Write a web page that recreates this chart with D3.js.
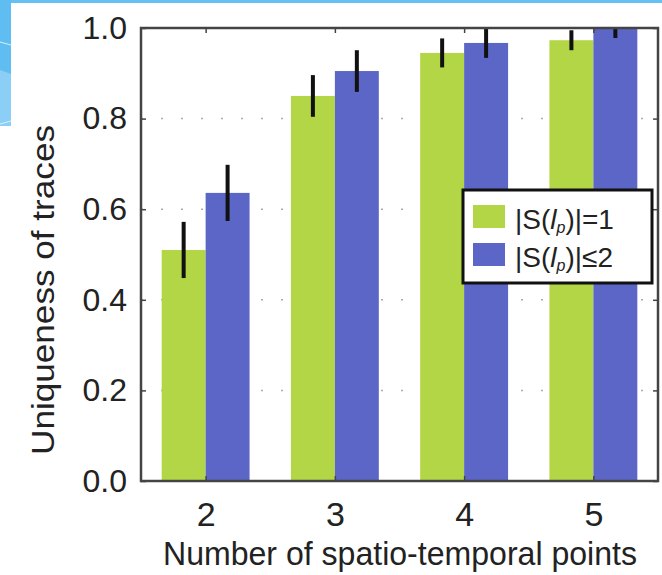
<!DOCTYPE html>
<html>
<head>
<meta charset="utf-8">
<script src="https://cdn.jsdelivr.net/npm/d3@7/dist/d3.min.js"></script>
<style>
  html, body { margin: 0; padding: 0; background: #fff; }
  svg { display: block; font-family: "Liberation Sans", Arial, Helvetica, sans-serif; }
</style>
</head>
<body>
<svg id="chart" width="662" height="575"></svg>
<script>
// Uniqueness of traces by number of spatio-temporal points
const categories = [2, 3, 4, 5];
const seriesNames = ["single", "multi"];
const singleValues = [0.51, 0.85, 0.945, 0.973];
const singleErrors = [0.062, 0.046, 0.032, 0.022];
const multiValues = [0.636, 0.905, 0.967, 1.0];
const multiErrors = [0.062, 0.046, 0.033, 0.022];
const yTicks = [0.0, 0.2, 0.4, 0.6, 0.8, 1.0];
const gridTicks = [0.2, 0.4, 0.6, 0.8];

const colors = { single: "#b3d646", multi: "#5c66c6" };

const svg = d3.select("#chart");
const W = 662, H = 575;
const plot = { left: 141, right: 658, top: 28, bottom: 481 };

// slide decoration: top strip and left corner
svg.append("rect").attr("x", 0).attr("y", 0).attr("width", W).attr("height", 3).attr("fill", "#63c2f2");
const deco = svg.append("g");
deco.append("rect").attr("x", 0).attr("y", 0).attr("width", 11).attr("height", 126).attr("fill", "#5fbdf1");
deco.append("path").attr("d", "M0,70 L11,74 L11,126 L0,126 Z").attr("fill", "#8ccff6");
deco.append("path").attr("d", "M0,42 L11,45").attr("stroke", "#d6effc").attr("stroke-width", 1);
deco.append("path").attr("d", "M0,124 L11,121").attr("stroke", "#d6effc").attr("stroke-width", 1);

const x = d3.scaleLinear().domain([1.5, 5.5]).range([plot.left, plot.right]);
const y = d3.scaleLinear().domain([0, 1]).range([plot.bottom, plot.top]);
const barW = 0.34;

svg.append("defs").append("clipPath").attr("id", "plotClip")
  .append("rect").attr("x", plot.left).attr("y", plot.top)
  .attr("width", plot.right - plot.left).attr("height", plot.bottom - plot.top);

const g = svg.append("g").attr("clip-path", "url(#plotClip)");

// dotted horizontal grid
g.selectAll("line.grid").data(gridTicks).join("line")
  .attr("class", "grid")
  .attr("x1", plot.left).attr("x2", plot.right)
  .attr("y1", d => y(d)).attr("y2", d => y(d))
  .attr("stroke", "#aaa").attr("stroke-width", 1.5)
  .attr("stroke-dasharray", "2,18");

const rows = categories.map((c, i) => ({
  cat: c,
  single: { v: singleValues[i], e: singleErrors[i] },
  multi: { v: multiValues[i], e: multiErrors[i] }
}));

seriesNames.forEach((s, si) => {
  const off = si === 0 ? -barW : 0;
  g.selectAll("rect.bar-" + s).data(rows).join("rect")
    .attr("class", "bar-" + s)
    .attr("x", d => x(d.cat + off))
    .attr("width", d => x(d.cat + off + barW) - x(d.cat + off))
    .attr("y", d => y(d[s].v))
    .attr("height", d => y(0) - y(d[s].v))
    .attr("fill", colors[s]);
});

seriesNames.forEach((s, si) => {
  const off = si === 0 ? -barW / 2 : barW / 2;
  g.selectAll("line.err-" + s).data(rows).join("line")
    .attr("class", "err-" + s)
    .attr("x1", d => x(d.cat + off)).attr("x2", d => x(d.cat + off))
    .attr("y1", d => y(d[s].v - d[s].e)).attr("y2", d => y(d[s].v + d[s].e))
    .attr("stroke", "#111").attr("stroke-width", 4);
});

// frame
svg.append("rect")
  .attr("x", plot.left).attr("y", plot.top)
  .attr("width", plot.right - plot.left).attr("height", plot.bottom - plot.top)
  .attr("fill", "none").attr("stroke", "#444").attr("stroke-width", 2.5);

// axes with inward ticks
const yAxis = d3.axisLeft(y).tickValues(yTicks).tickFormat(d3.format(".1f")).tickSize(-5).tickPadding(14);
const yAxisR = d3.axisRight(y).tickValues(yTicks).tickFormat("").tickSize(-5);
const xAxis = d3.axisBottom(x).tickValues(categories).tickFormat(d3.format("d")).tickSize(-5).tickPadding(21);
const xAxisT = d3.axisTop(x).tickValues(categories).tickFormat("").tickSize(-5);

function styleAxis(sel, fs) {
  sel.select(".domain").remove();
  sel.selectAll(".tick line").attr("stroke", "#444").attr("stroke-width", 1.5);
  sel.selectAll(".tick text").attr("fill", "#222").style("font-size", fs + "px");
}
svg.append("g").attr("transform", `translate(${plot.left},0)`).call(yAxis).call(s => styleAxis(s, 32));
svg.append("g").attr("transform", `translate(${plot.right},0)`).call(yAxisR).call(s => styleAxis(s, 31));
svg.append("g").attr("transform", `translate(0,${plot.bottom})`).call(xAxis).call(s => styleAxis(s, 34));
svg.append("g").attr("transform", `translate(0,${plot.top})`).call(xAxisT).call(s => styleAxis(s, 31));

// axis titles
svg.append("text")
  .attr("x", 400).attr("y", 565)
  .attr("text-anchor", "middle")
  .attr("fill", "#222").style("font-size", "33px")
  .attr("textLength", 474).attr("lengthAdjust", "spacingAndGlyphs")
  .text("Number of spatio-temporal points");

svg.append("text")
  .attr("transform", "translate(54,290) rotate(-90)")
  .attr("text-anchor", "middle")
  .attr("fill", "#222").style("font-size", "32px")
  .attr("textLength", 330).attr("lengthAdjust", "spacingAndGlyphs")
  .text("Uniqueness of traces");

// legend
const legend = svg.append("g");
legend.append("rect")
  .attr("x", 463).attr("y", 190).attr("width", 189).attr("height", 93)
  .attr("fill", "#fff").attr("stroke", "#111").attr("stroke-width", 3);

const legendItems = [
  { key: "single", rel: "=1" },
  { key: "multi", rel: "\u22642" }
];
legendItems.forEach((it, i) => {
  const yy = 205 + i * 38;
  legend.append("rect").attr("x", 473).attr("y", yy).attr("width", 32).attr("height", 23)
    .attr("fill", colors[it.key]);
  const t = legend.append("text").attr("x", 515).attr("y", yy + 24)
    .attr("fill", "#222").style("font-size", "28px");
  t.append("tspan").text("|S(");
  t.append("tspan").style("font-style", "italic").text("l");
  t.append("tspan").style("font-size", "16px").style("font-style", "italic").attr("dy", 4).text("p");
  t.append("tspan").attr("dy", -4).text(")|" + it.rel);
});
</script>
</body>
</html>
